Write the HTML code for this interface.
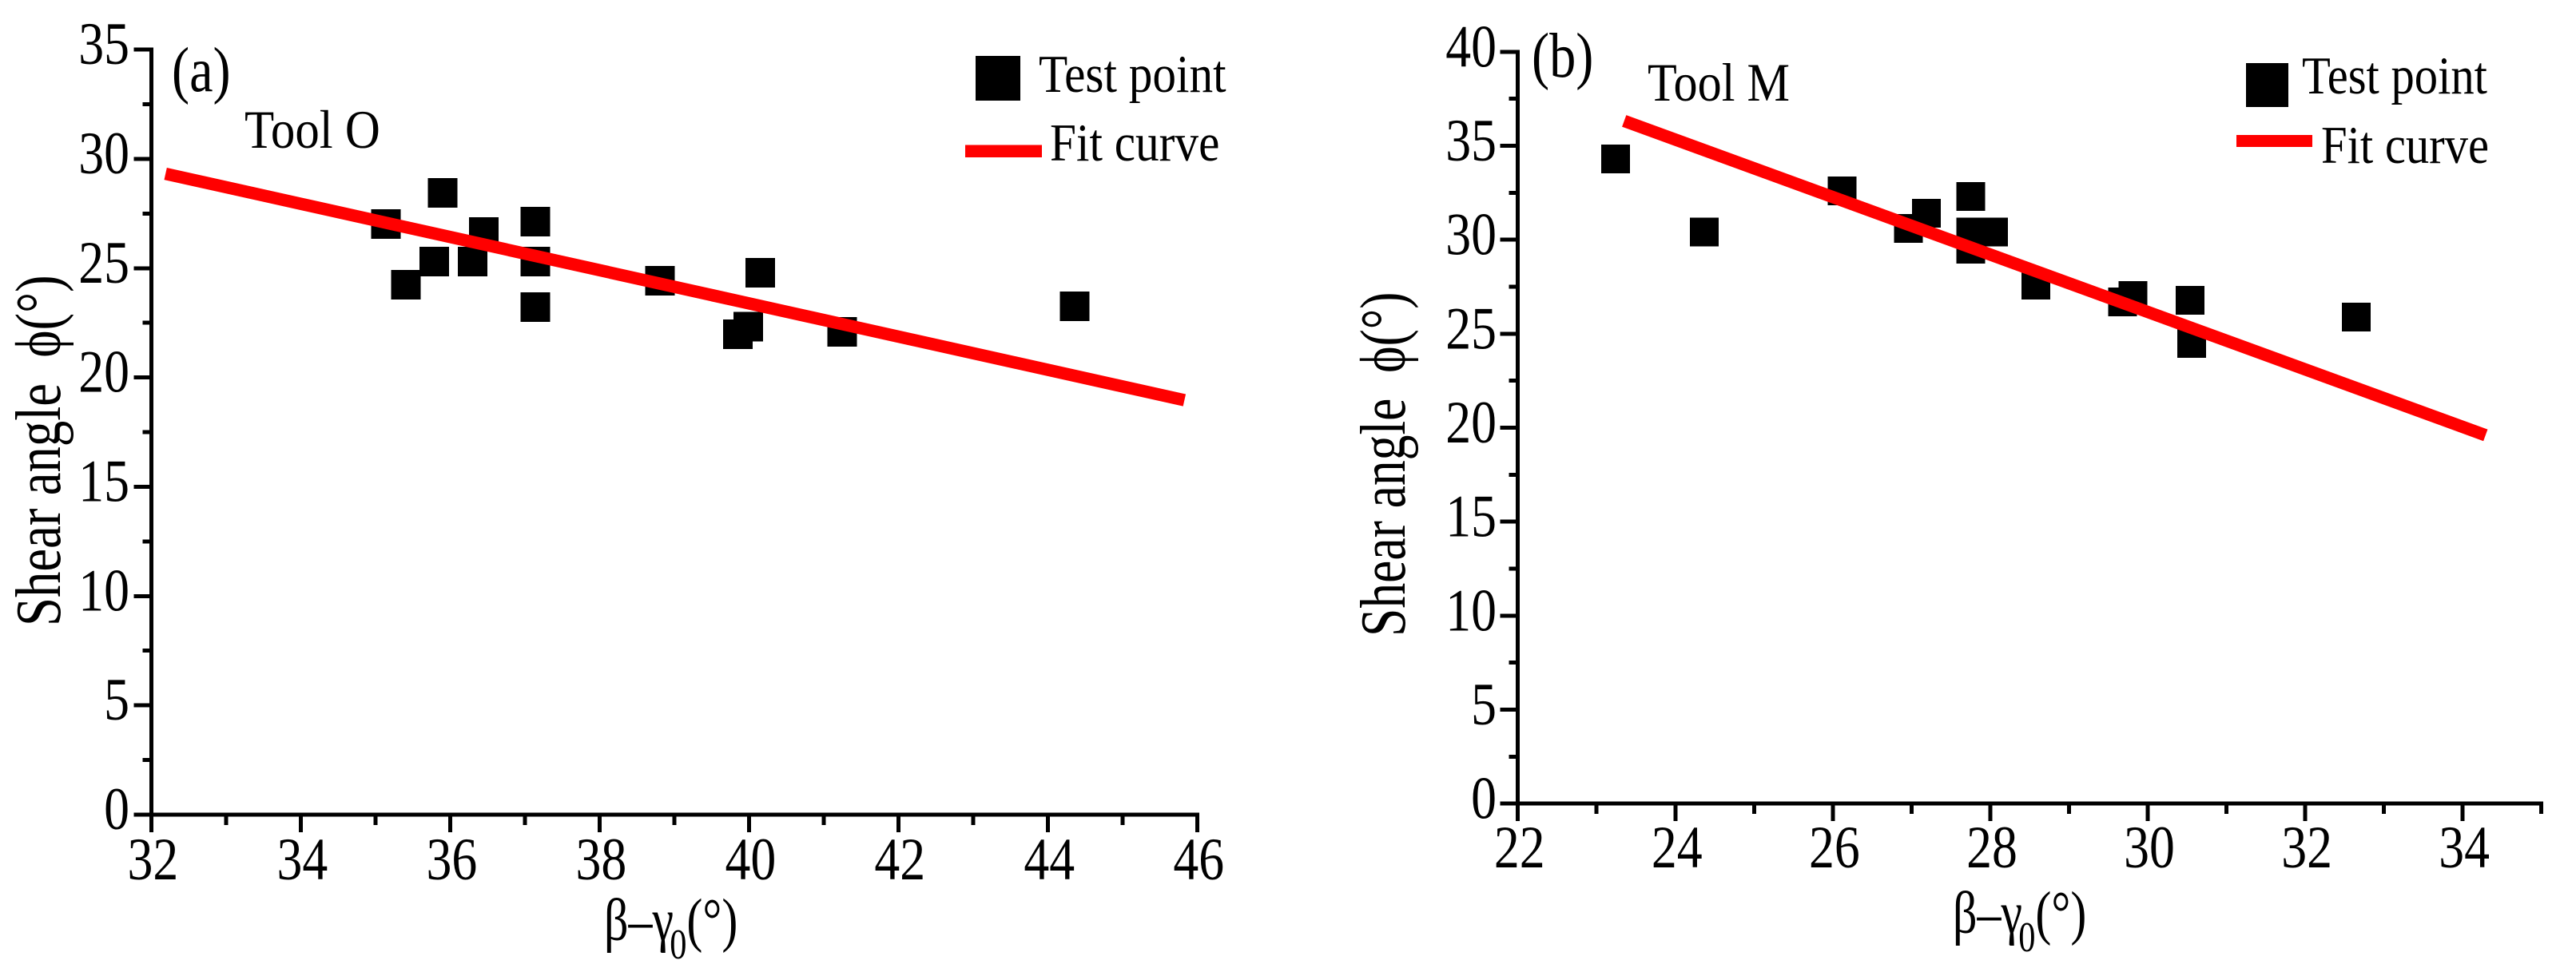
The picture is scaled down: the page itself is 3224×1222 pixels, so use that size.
<!DOCTYPE html>
<html lang="en">
<head>
<meta charset="utf-8">
<title>Shear angle vs. friction minus rake angle</title>
<style>
  html, body { margin: 0; padding: 0; background: #fff; }
  svg { display: block; }
  text { font-family: "Liberation Serif", "DejaVu Serif", serif; fill: #000; }
</style>
</head>
<body>
<svg id="figure" xmlns="http://www.w3.org/2000/svg" width="3224" height="1222" viewBox="0 0 3224 1222">
  <rect x="0" y="0" width="3224" height="1222" fill="#fff"/>

  <g id="panel-a"></g>
  <g id="panel-b"></g>

  <text font-size="79" transform="translate(215,114) scale(0.84,1)">(a)</text>
  <text font-size="68" transform="translate(306,185) scale(0.895,1)">Tool O</text>
  <text font-size="80" xml:space="preserve" transform="translate(75,784) rotate(-90) scale(0.81,1)">Shear angle  ϕ(°)</text>
  <text font-size="75" transform="translate(756,1177) scale(0.8,1)">β–γ<tspan font-size="53" dx="-6" dy="23">0</tspan><tspan dy="-23">(°)</tspan></text>

  <g>
    <rect x="1221" y="70" width="56" height="56" fill="#000" shape-rendering="crispEdges"/>
    <text font-size="67" transform="translate(1300,115) scale(0.885,1)">Test point</text>
    <rect x="1208" y="181.5" width="96" height="15.5" fill="#f00" shape-rendering="crispEdges"/>
    <text font-size="67" transform="translate(1314,201) scale(0.885,1)">Fit curve</text>
  </g>

  <text font-size="79" transform="translate(1917,96) scale(0.84,1)">(b)</text>
  <text font-size="68" transform="translate(2062,126) scale(0.885,1)">Tool M</text>
  <text font-size="80" xml:space="preserve" transform="translate(1758,797) rotate(-90) scale(0.795,1)">Shear angle  ϕ(°)</text>
  <text font-size="75" transform="translate(2444,1168) scale(0.8,1)">β–γ<tspan font-size="53" dx="-6" dy="23">0</tspan><tspan dy="-23">(°)</tspan></text>

  <g>
    <rect x="2811" y="79" width="53" height="55" fill="#000" shape-rendering="crispEdges"/>
    <text font-size="67" transform="translate(2881,117) scale(0.875,1)">Test point</text>
    <rect x="2799" y="168.8" width="95" height="15.2" fill="#f00" shape-rendering="crispEdges"/>
    <text font-size="67" transform="translate(2905,204) scale(0.875,1)">Fit curve</text>
  </g>
</svg>

<script>
// Panel (a) Tool O data
const aTestX = [35.14, 35.90, 35.79, 35.41, 36.45, 36.30, 37.14, 37.14, 37.14, 38.81, 40.15, 39.99, 39.85, 41.25, 44.36];
const aTestY = [27.02, 28.44, 25.31, 24.24, 26.66, 25.31, 27.13, 25.31, 23.22, 24.43, 24.79, 22.33, 21.98, 22.08, 23.26];
const aFitX = [32.19, 45.83];
const aFitY = [29.32, 18.96];
const aXMajor = [32, 34, 36, 38, 40, 42, 44, 46];
const aXMinor = [33, 35, 37, 39, 41, 43, 45];
const aYMajor = [0, 5, 10, 15, 20, 25, 30, 35];
const aYMinor = [2.5, 7.5, 12.5, 17.5, 22.5, 27.5, 32.5];

// Panel (b) Tool M data
const bTestX = [23.24, 24.37, 26.12, 27.19, 26.96, 27.75, 27.75, 28.04, 27.75, 28.58, 29.68, 29.81, 30.54, 30.56, 32.65];
const bTestY = [34.29, 30.40, 32.60, 31.40, 30.60, 32.30, 30.40, 30.40, 29.49, 27.59, 26.70, 27.04, 26.77, 24.48, 25.88];
const bFitX = [23.35, 34.29];
const bFitY = [36.32, 19.60];
const bXMajor = [22, 24, 26, 28, 30, 32, 34];
const bXMinor = [23, 25, 27, 29, 31, 33, 35];
const bYMajor = [0, 5, 10, 15, 20, 25, 30, 35, 40];
const bYMinor = [2.5, 7.5, 12.5, 17.5, 22.5, 27.5, 32.5, 37.5];

const SVG_NS = 'http://www.w3.org/2000/svg';

function make(parent, tag, attrs) {
  const el = document.createElementNS(SVG_NS, tag);
  for (const key in attrs) el.setAttribute(key, attrs[key]);
  parent.appendChild(el);
  return el;
}

function drawPanel(root, cfg) {
  const xScale = v => cfg.x0 + (v - cfg.xMin) * cfg.xPerUnit;
  const yScale = v => cfg.y0 - v * cfg.yPerUnit;
  const axisY = yScale(0);
  const axisX = xScale(cfg.xMin);

  // Markers
  cfg.testX.forEach((xv, i) => {
    const m = make(root, 'rect', {
      x: xScale(xv) - cfg.marker / 2,
      y: yScale(cfg.testY[i]) - cfg.marker / 2,
      width: cfg.marker,
      height: cfg.marker,
      fill: '#000',
      'shape-rendering': 'crispEdges'
    });
    
    
  });

  // Fit line
  const fit = make(root, 'line', {
    x1: xScale(cfg.fitX[0]),
    y1: yScale(cfg.fitY[0]),
    x2: xScale(cfg.fitX[1]),
    y2: yScale(cfg.fitY[1]),
    stroke: '#f00',
    'stroke-width': 15.5
  });
  
  

  // Axis lines
  const yAxis = make(root, 'line', {
    x1: axisX, x2: axisX,
    y1: axisY + 2.5, y2: yScale(cfg.yMajor[cfg.yMajor.length - 1]) - 2.5,
    stroke: '#000', 'stroke-width': 5, 'shape-rendering': 'crispEdges'
  });
  
  

  const xAxis = make(root, 'line', {
    x1: axisX - 22, x2: xScale(cfg.xEnd) + 2.5,
    y1: axisY, y2: axisY,
    stroke: '#000', 'stroke-width': 5, 'shape-rendering': 'crispEdges'
  });
  
  

  // Y ticks
  cfg.yMajor.forEach(v => {
    const t = make(root, 'line', {
      x1: axisX - 22, x2: axisX, y1: yScale(v), y2: yScale(v),
      stroke: '#000', 'stroke-width': 5, 'shape-rendering': 'crispEdges'
    });
    
    
    const label = make(root, 'text', {
      'font-size': 75,
      'text-anchor': 'end',
      transform: 'translate(' + cfg.yLabelX + ',' + (yScale(v) + cfg.yLabelDy) + ') scale(0.85,1)'
    });
    
    
    label.textContent = String(v);
  });
  cfg.yMinor.forEach(v => {
    const t = make(root, 'line', {
      x1: axisX - 11, x2: axisX, y1: yScale(v), y2: yScale(v),
      stroke: '#000', 'stroke-width': 5, 'shape-rendering': 'crispEdges'
    });
    
    
  });

  // X ticks
  cfg.xMajor.forEach(v => {
    const t = make(root, 'line', {
      x1: xScale(v), x2: xScale(v), y1: axisY, y2: axisY + 22,
      stroke: '#000', 'stroke-width': 5, 'shape-rendering': 'crispEdges'
    });
    
    
    const label = make(root, 'text', {
      'font-size': 75,
      'text-anchor': 'middle',
      transform: 'translate(' + (xScale(v) + 2) + ',' + cfg.xLabelY + ') scale(0.85,1)'
    });
    
    
    label.textContent = String(v);
  });
  cfg.xMinor.forEach(v => {
    const t = make(root, 'line', {
      x1: xScale(v), x2: xScale(v), y1: axisY, y2: axisY + 13,
      stroke: '#000', 'stroke-width': 5, 'shape-rendering': 'crispEdges'
    });
    
    
  });
}

drawPanel(document.getElementById('panel-a'), {
  x0: 189.4, xMin: 32, xPerUnit: 93.49, xEnd: 46,
  y0: 1020, yPerUnit: 27.37,
  marker: 37,
  yLabelX: 162, yLabelDy: 18, xLabelY: 1101,
  testX: aTestX, testY: aTestY, fitX: aFitX, fitY: aFitY,
  xMajor: aXMajor, xMinor: aXMinor, yMajor: aYMajor, yMinor: aYMinor
});

drawPanel(document.getElementById('panel-b'), {
  x0: 1899.7, xMin: 22, xPerUnit: 98.54, xEnd: 35,
  y0: 1006.2, yPerUnit: 23.535,
  marker: 36,
  yLabelX: 1873, yLabelDy: 18.5, xLabelY: 1086,
  testX: bTestX, testY: bTestY, fitX: bFitX, fitY: bFitY,
  xMajor: bXMajor, xMinor: bXMinor, yMajor: bYMajor, yMinor: bYMinor
});
</script>
</body>
</html>
